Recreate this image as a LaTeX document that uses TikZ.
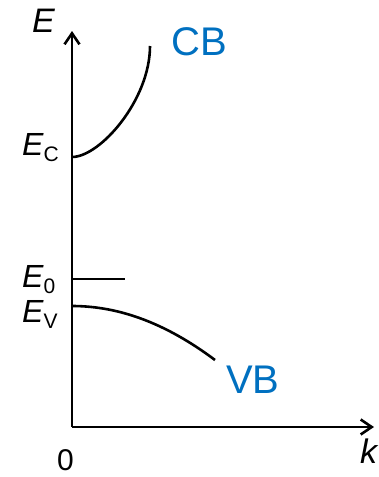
\documentclass[tikz,border=0pt]{standalone}
\usepackage{fontspec}
\setmainfont{Liberation Sans}
\usetikzlibrary{arrows.meta}
\definecolor{bandblue}{HTML}{0070C0}
\tikzset{
  axis/.style={line width=2.6pt, -{Straight Barb[length=11pt,width=15pt,line width=2.6pt]}},
  band/.style={line width=2.6pt},
  lbl/.style={anchor=base west, inner sep=0pt},
  bandlbl/.style={lbl, text=bandblue},
}
\newcommand{\lvl}[1]{\fontsize{32}{32}\selectfont\itshape E\upshape\raisebox{-6pt}{\fontsize{21}{21}\selectfont #1}}
\begin{document}
\begin{tikzpicture}[x=1pt,y=-1pt]
\useasboundingbox (0,0) rectangle (378,477);
\coordinate (O) at (72,427);
\coordinate (ytop) at (72,31);
\coordinate (xend) at (374,427);
\coordinate (EC) at (72,157);
\coordinate (CBend) at (150,46);
\coordinate (E0) at (72,279);
\coordinate (E0end) at (125,279);
\coordinate (EV) at (72,306);
\coordinate (VBend) at (215,360);
\draw[axis] (O) -- (ytop);
\draw[axis] (O) -- (xend);
\draw[band] (EC) .. controls (100,157) and (150,100) .. (CBend);
\draw[band] (E0) -- (E0end);
\draw[band] (EV) .. controls (120,306) and (167,324) .. (VBend);
\node[lbl] (Elab) at (32,32) {\fontsize{34}{34}\selectfont\itshape E};
\node[lbl] (EClab) at (22,155) {\lvl{C}};
\node[lbl] (E0lab) at (22,287) {\lvl{0}};
\node[lbl] (EVlab) at (22,322) {\lvl{V}};
\node[lbl] (zero) at (57,470) {\fontsize{30}{30}\selectfont 0};
\node[lbl] (klab) at (360,463) {\fontsize{34}{34}\selectfont\itshape k};
\node[bandlbl] (CB) at (171,55) {\fontsize{40}{40}\selectfont CB};
\node[bandlbl] (VB) at (226,393) {\fontsize{40}{40}\selectfont VB};
\end{tikzpicture}
\end{document}
